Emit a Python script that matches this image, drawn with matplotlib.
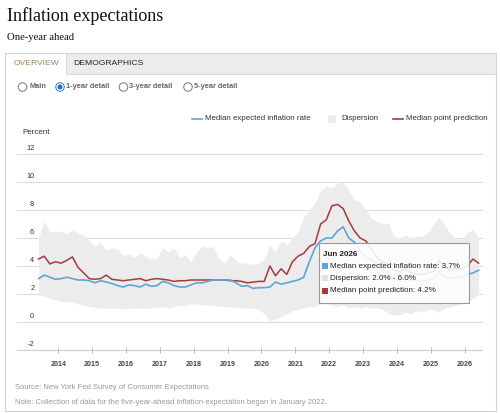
import pandas as pd
import matplotlib.pyplot as plt
from matplotlib.patches import Rectangle, Ellipse
from matplotlib.lines import Line2D

# survey months, every second month from Jun 2013 to Jun 2026
months = pd.date_range("2013-06-01", "2026-06-01", freq="2MS")

median_expected = [
    3.1, 3.35, 3.2, 3.05,               # 2013
    3.1, 3.2, 3.1, 3.0, 3.0, 2.95,      # 2014
    2.8, 2.95, 2.85, 2.75, 2.6, 2.5,    # 2015
    2.65, 2.6, 2.5, 2.7, 2.55, 2.6,     # 2016
    2.9, 2.8, 2.6, 2.5, 2.5, 2.65,      # 2017
    2.8, 2.8, 2.9, 3.0, 3.0, 3.0,       # 2018
    3.0, 2.8, 2.55, 2.6, 2.4, 2.45,     # 2019
    2.45, 2.5, 2.85, 2.7, 2.8, 2.9,     # 2020
    3.0, 3.2, 4.3, 5.3, 5.8, 6.0,       # 2021
    6.0, 6.5, 6.8, 6.0, 5.7, 5.1,       # 2022
    4.5, 4.5, 4.1, 3.6, 3.6, 3.0,       # 2023
    3.0, 3.3, 3.0, 3.0, 2.9, 3.0,       # 2024
    3.1, 3.6, 3.2, 3.1, 3.2, 3.2,       # 2025
    3.4, 3.5, 3.7,                      # 2026
]

median_point = [
    4.5, 4.7, 4.15, 4.3,                # 2013
    4.2, 4.4, 4.65, 3.9, 3.5, 3.1,      # 2014
    3.05, 3.1, 3.35, 3.05, 3.0, 2.95,   # 2015
    3.0, 3.05, 3.1, 2.95, 3.05, 3.1,    # 2016
    3.05, 3.0, 2.9, 2.95, 2.95, 3.0,    # 2017
    3.0, 3.0, 3.0, 3.0, 3.0, 3.0,       # 2018
    2.95, 2.95, 2.9, 2.8, 2.85, 2.9,    # 2019
    2.9, 4.0, 3.3, 3.8, 3.4, 4.3,       # 2020
    4.7, 4.9, 5.4, 5.6, 7.0, 7.3,       # 2021
    8.3, 8.4, 8.1, 7.2, 6.5, 6.0,       # 2022
    5.8, 5.2, 4.6, 4.3, 4.1, 3.7,       # 2023
    3.6, 3.8, 3.5, 3.4, 3.4, 3.5,       # 2024
    3.6, 4.4, 3.9, 3.7, 3.8, 3.8,       # 2025
    4.0, 4.5, 4.2,                      # 2026
]

dispersion_high = [
    6.0, 7.2, 6.5, 6.4,                 # 2013
    6.5, 6.3, 6.6, 6.3, 6.2, 5.8,       # 2014
    5.4, 5.7, 5.1, 5.3, 5.2, 4.7,       # 2015
    4.9, 4.6, 4.9, 4.7, 4.5, 4.6,       # 2016
    5.3, 5.0, 5.3, 4.6, 4.8, 4.3,       # 2017
    5.0, 5.4, 5.3, 5.4, 4.5, 4.2,       # 2018
    4.8, 4.4, 4.2, 4.2, 4.1, 4.2,       # 2019
    4.5, 5.5, 5.0, 5.8, 5.5, 6.0,       # 2020
    6.5, 7.5, 8.0, 8.5, 9.4, 9.7,       # 2021
    9.6, 9.9, 10.0, 9.4, 8.7, 8.6,      # 2022
    8.0, 7.4, 7.2, 7.0, 7.1, 6.1,       # 2023
    6.0, 6.2, 6.0, 6.1, 6.1, 6.4,       # 2024
    7.0, 7.5, 6.9, 6.3, 6.0, 5.9,       # 2025
    6.4, 6.6, 6.0,                      # 2026
]

dispersion_low = [
    2.0, 1.85, 1.7, 1.6,                # 2013
    1.5, 1.45, 1.4, 1.3, 1.2, 1.1,      # 2014
    1.05, 1.0, 0.95, 1.0, 0.95, 0.95,   # 2015
    1.0, 0.95, 1.0, 0.95, 1.0, 1.05,    # 2016
    1.1, 1.0, 1.1, 1.2, 1.2, 1.3,       # 2017
    1.3, 1.25, 1.2, 1.2, 1.1, 1.1,      # 2018
    1.1, 1.05, 1.0, 1.0, 1.0, 0.9,      # 2019
    0.6, 0.1, 0.2, 0.4, 0.6, 0.8,       # 2020
    0.9, 1.0, 1.1, 1.1, 1.3, 1.3,       # 2021
    1.2, 1.1, 1.2, 1.0, 1.1, 1.0,       # 2022
    1.1, 1.0, 1.0, 0.9, 0.6, 0.5,       # 2023
    0.5, 0.7, 0.6, 0.8, 0.7, 0.9,       # 2024
    0.9, 0.7, 1.0, 1.1, 1.2, 1.3,       # 2025
    1.5, 1.7, 2.0,                      # 2026
]

years = list(range(2014, 2027))
y_ticks = [-2, 0, 2, 4, 6, 8, 10, 12]

BLUE = "#5fa6d0"
RED = "#a53a3c"
BAND = "#ececec"
W, H = 500, 413

x = months.year + (months.month - 1) / 12


def fx(px):
    return px / W


def fy(py):
    return 1 - py / H


plt.rcParams["font.family"] = ["Liberation Sans", "DejaVu Sans"]

fig = plt.figure(figsize=(5, 4.13), dpi=100)

# panel frame, tabs, radio buttons
fig.patches.append(Rectangle((fx(5), fy(411)), fx(491), 358 / H, transform=fig.transFigure,
                             fc="white", ec="#d4d4d4", lw=0.8, zorder=-5))
fig.patches.append(Rectangle((fx(66), fy(74)), fx(430), 21 / H, transform=fig.transFigure,
                             fc="#ececec", ec="#d4d4d4", lw=0.6, zorder=-4))
fig.text(fx(7), fy(16), "Inflation expectations", family="Liberation Serif", fontsize=13,
         color="#111", va="center")
fig.text(fx(7), fy(37), "One-year ahead", family="Liberation Serif", fontsize=7.7,
         color="#111", va="center")
fig.text(fx(14), fy(63.5), "OVERVIEW", fontsize=6.1, color="#9a8758", va="center")
fig.text(fx(73), fy(63.5), "DEMOGRAPHICS", fontsize=6.1, color="#222", va="center")

radios = [(22.5, 29, "Main"), (60, 66, "1-year detail"),
          (123.5, 129, "3-year detail"), (188, 194, "5-year detail")]
for cx, tx, label in radios:
    sel = label == "1-year detail"
    fig.patches.append(Ellipse((fx(cx), fy(87)), 8.5 / W, 8.5 / H, transform=fig.transFigure,
                               fc="white", ec="#2a76c6" if sel else "#777", lw=0.7))
    if sel:
        fig.patches.append(Ellipse((fx(cx), fy(87)), 5 / W, 5 / H, transform=fig.transFigure,
                                   fc="#1f6fc0", ec="none"))
    fig.text(fx(tx), fy(87), label, fontsize=5.3, fontweight="bold", color="#666", va="center")

# legend
fig.lines.append(Line2D([fx(192), fx(202)], [fy(119), fy(119)], transform=fig.transFigure,
                        color=BLUE, lw=1.2))
fig.text(fx(205), fy(119), "Median expected inflation rate", fontsize=5.7, color="#333", va="center")
fig.patches.append(Rectangle((fx(328), fy(123)), 8 / W, 8 / H, transform=fig.transFigure,
                             fc=BAND, ec="none"))
fig.text(fx(341), fy(119), "Dispersion", fontsize=5.7, color="#333", va="center")
fig.lines.append(Line2D([fx(393), fx(403)], [fy(119), fy(119)], transform=fig.transFigure,
                        color=RED, lw=1.2))
fig.text(fx(406), fy(119), "Median point prediction", fontsize=5.7, color="#333", va="center")

# plot area: gridline 12 at y=154px, -2 at y=350px, 2014 tick at x=58.3px
ppu_y = 14.0
ppy_x = 33.85
x_left, x_right = 17, 483
y_lo, y_hi = -2.2, 12.2
bottom_px = 350 + 0.2 * ppu_y
top_px = 154 - 0.2 * ppu_y
ax = fig.add_axes([fx(x_left), fy(bottom_px), fx(x_right - x_left), (bottom_px - top_px) / H])
ax.set_xlim(2014 + (x_left - 58.3) / ppy_x, 2014 + (x_right - 58.3) / ppy_x)
ax.set_ylim(y_lo, y_hi)
ax.patch.set_alpha(0)
for s in ax.spines.values():
    s.set_visible(False)

for v in y_ticks:
    ax.axhline(v, color="#cfcfcf" if v == -2 else "#dcdcdc", lw=0.8, zorder=0)
    ax.text(0.037, v + 0.42, str(v), transform=ax.get_yaxis_transform(), ha="right",
            va="center", fontsize=5.3, color="#333")

ax.fill_between(x, dispersion_low, dispersion_high, color=BAND, lw=0, zorder=1)
ax.plot(x, median_point, color=RED, lw=1.1, zorder=3)
ax.plot(x, median_expected, color=BLUE, lw=1.2, zorder=4)

ax.set_xticks(years)
ax.set_xticklabels([str(y) for y in years], fontsize=5.1, fontweight="bold", color="#444")
ax.tick_params(axis="x", direction="in", length=4, width=0.7, color="#bbb", pad=6)
ax.set_yticks([])

fig.text(fx(22), fy(133), "Percent", fontsize=5.8, color="#333", va="center")

# tooltip for the last month
fig.patches.append(Rectangle((fx(319), fy(302.7)), 150 / W, 59.4 / H, transform=fig.transFigure,
                             fc="white", alpha=0.88, ec="none", zorder=5))
fig.patches.append(Rectangle((fx(319), fy(302.7)), 150 / W, 59.4 / H, transform=fig.transFigure,
                             fc="none", ec="#9a9a9a", lw=0.8, zorder=6))
fig.text(fx(323), fy(254), "Jun 2026", fontsize=5.8, fontweight="bold", color="#222",
         va="center", zorder=7)
tip_rows = [
    (266, BLUE, "Median expected inflation rate: %.1f%%" % median_expected[-1]),
    (278.3, "#e2e2e2", "Dispersion: %.1f%% - %.1f%%" % (dispersion_low[-1], dispersion_high[-1])),
    (290.7, RED, "Median point prediction: %.1f%%" % median_point[-1]),
]
for yy, c, label in tip_rows:
    fig.patches.append(Rectangle((fx(322), fy(yy + 3)), 6 / W, 6 / H, transform=fig.transFigure,
                                 fc=c, ec="none", zorder=7))
    fig.text(fx(330), fy(yy), label, fontsize=5.8, color="#222", va="center", zorder=7)

fig.text(fx(15), fy(387.5), "Source: New York Fed Survey of Consumer Expectations",
         fontsize=5.5, color="#999", va="center")
fig.text(fx(15), fy(402.5),
         "Note: Collection of data for the five-year-ahead inflation expectation began in January 2022.",
         fontsize=5.5, color="#999", va="center")

fig.savefig("out.png", dpi=100)
